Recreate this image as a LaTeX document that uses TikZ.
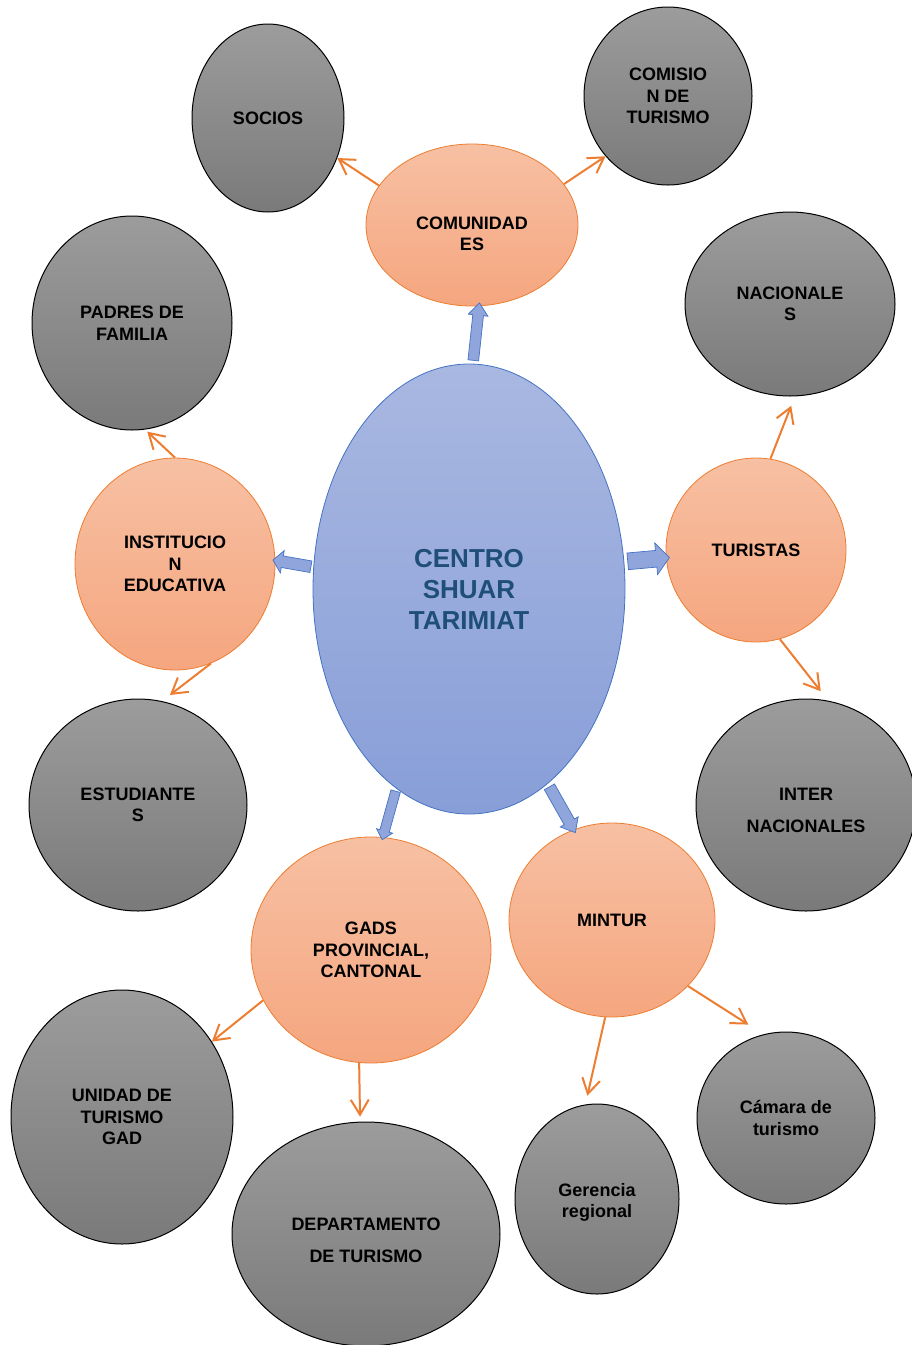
\documentclass[tikz,border=0pt]{standalone}
\usepackage{fontspec}
\setmainfont{Liberation Sans}
\usetikzlibrary{shapes.geometric,shapes.arrows,arrows.meta,calc}

\definecolor{orangeline}{HTML}{ED7D31}
\definecolor{orangetop}{HTML}{F7C0A3}
\definecolor{orangebot}{HTML}{F5A67F}
\definecolor{graytop}{HTML}{9C9C9C}
\definecolor{graybot}{HTML}{7A7A7A}
\definecolor{bluetop}{HTML}{A9B8E1}
\definecolor{bluebot}{HTML}{889ED8}
\definecolor{blueline}{HTML}{4472C4}
\definecolor{bluefill}{HTML}{8FA5DB}
\definecolor{bluetext}{HTML}{1F4E79}

\tikzset{
  hub/.style={ellipse, draw=blueline, line width=0.8pt, top color=bluetop, bottom color=bluebot,
    text=bluetext, font=\fontsize{26}{31}\selectfont\bfseries, align=center, inner sep=0pt},
  area/.style={ellipse, draw=orangeline, line width=0.8pt, top color=orangetop, bottom color=orangebot,
    font=\fontsize{18}{21.5}\selectfont\bfseries, align=center, inner sep=0pt},
  actor/.style={ellipse, draw=black, line width=1pt, top color=graytop, bottom color=graybot,
    font=\fontsize{18}{21.5}\selectfont\bfseries, align=center, inner sep=0pt},
  link/.style={draw=orangeline, line width=2pt, -{Straight Barb[length=15pt,width=18pt]}},
  blockarrow/.style={single arrow, draw=blueline, fill=bluefill, line width=0.7pt,
    inner xsep=0pt, minimum width=1pt}
}

% block arrow from one anchor to another
\newcommand{\blockarrow}[3][]{%
  \path let \p1=(#2), \p2=(#3), \n1={veclen(\x2-\x1,\y2-\y1)} in
    node[blockarrow, #1, minimum height=\n1, rotate={atan2(\y2-\y1,\x2-\x1)}]
    at ($(#2)!0.5!(#3)$) {};}

\begin{document}
\begin{tikzpicture}[x=1pt,y=-1pt]
\useasboundingbox (0,0) rectangle (911,1345);

\node[hub, minimum width=312pt, minimum height=450pt] (centro) at (469,589) {CENTRO\\SHUAR\\TARIMIAT}; % centre

% second ring
\node[area, minimum width=212pt, minimum height=162pt, text height=52pt] (com) at (472,225) {COMUNIDAD\\ES};
\node[area, minimum width=200pt, minimum height=212pt] (inst) at (175,564) {INSTITUCIO\\N\\EDUCATIVA};
\node[area, minimum width=180pt, minimum height=184pt] (tur) at (756,550) {TURISTAS};
\node[area, minimum width=240pt, minimum height=226pt] (gads) at (371,950) {GADS\\PROVINCIAL,\\CANTONAL};
\node[area, minimum width=206pt, minimum height=194pt] (mintur) at (612,920) {MINTUR};

% outer ring
\node[actor, minimum width=152pt, minimum height=188pt] (socios) at (268,118) {SOCIOS};
\node[actor, minimum width=168pt, minimum height=178pt] (comision) at (668,96) {COMISIO\\N DE\\TURISMO};
\node[actor, minimum width=210pt, minimum height=184pt] (nac) at (790,304) {NACIONALE\\S};
\node[actor, minimum width=200pt, minimum height=214pt] (padres) at (132,323) {PADRES DE\\FAMILIA};
\node[actor, minimum width=218pt, minimum height=212pt] (estud) at (138,805) {ESTUDIANTE\\S};
\node[actor, minimum width=220pt, minimum height=212pt, text height=55pt] (inter) at (806,805) {INTER\\[10.5pt]NACIONALES};
\node[actor, minimum width=222pt, minimum height=254pt] (unidad) at (122,1117) {UNIDAD DE\\TURISMO\\GAD};
\node[actor, minimum width=268pt, minimum height=224pt, text height=57pt] (depto) at (366,1234) {DEPARTAMENTO\\[10.5pt]DE TURISMO};
\node[actor, minimum width=164pt, minimum height=190pt, text height=41pt] (gerencia) at (597,1199) {Gerencia\\regional};
\node[actor, minimum width=178pt, minimum height=172pt] (camara) at (786,1118) {Cámara de\\turismo};

% blue block arrows
\blockarrow[inner ysep=5pt, single arrow head extend=4.5pt, single arrow tip angle=77]{centro.89}{com.275}
\blockarrow[inner ysep=5.5pt, single arrow head extend=5.5pt, single arrow tip angle=100]{centro.172}{inst.2}
\blockarrow[inner ysep=8pt, single arrow head extend=7.5pt, single arrow tip angle=100]{centro.10}{tur.185}
\blockarrow[inner ysep=4.5pt, single arrow head extend=3.5pt, single arrow tip angle=85]{centro.250}{gads.84}
\blockarrow[inner ysep=5.5pt, single arrow head extend=4.5pt, single arrow tip angle=80]{centro.292}{mintur.113}

% orange links
\draw[link] (com.157) -- (socios.330);
\draw[link] (com.24) -- (comision.224);
\draw[link, shorten >=3pt] (inst.90) -- (padres.277);
\draw[link, shorten >=10pt] (inst.290) -- (estud.77);
\draw[link, shorten >=10pt] (tur.81) -- (nac.273);
\draw[link, shorten >=12pt] (tur.285) -- (inter.78);
\draw[link] (gads.205) -- (unidad.40);
\draw[link, shorten >=5pt] (gads.264) -- (depto.93);
\draw[link, shorten >=9pt] (mintur.266) -- (gerencia.97);
\draw[link, shorten >=18pt] (mintur.319) -- (camara.105);

\end{tikzpicture}
\end{document}
